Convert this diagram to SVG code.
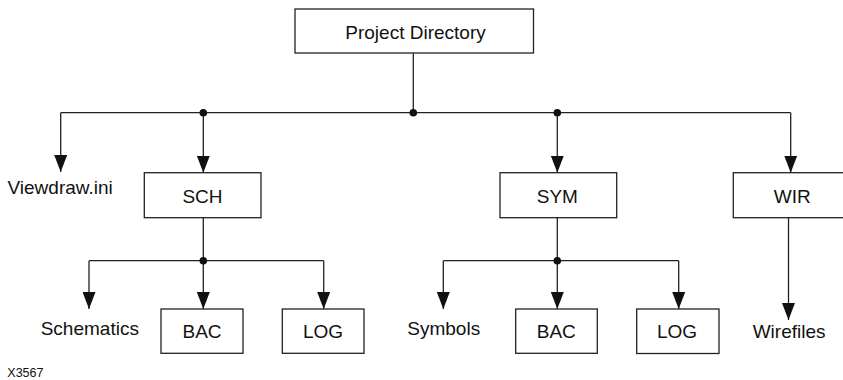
<svg xmlns="http://www.w3.org/2000/svg" width="843" height="380" viewBox="0 0 843 380">
<style>
.box{fill:#fff;stroke:#222;stroke-width:1.3}
.ln{fill:none;stroke:#222;stroke-width:1.3}
.arr{marker-end:url(#ah)}
text{font-family:"Liberation Sans",Arial,sans-serif;font-size:19px;fill:#111}
.c{text-anchor:middle}
.dot{fill:#111}
</style>
<defs>
<marker id="ah" viewBox="0 0 17 13" refX="17" refY="6.5" markerWidth="17" markerHeight="13" markerUnits="userSpaceOnUse" orient="auto">
<path d="M0,0 L17,6.5 L0,13 z" fill="#111"/>
</marker>
</defs>
<rect width="843" height="380" fill="#fff"/>
<g id="connectors">
<line class="ln" x1="413.3" y1="53" x2="413.3" y2="112.7"/>
<line class="ln" x1="60.7" y1="112.7" x2="790.7" y2="112.7"/>
<line class="ln arr" x1="60.7" y1="112.7" x2="60.7" y2="172"/>
<line class="ln arr" x1="203.3" y1="112.7" x2="203.3" y2="172.7"/>
<line class="ln arr" x1="557.3" y1="112.7" x2="557.3" y2="172.7"/>
<line class="ln arr" x1="790.7" y1="112.7" x2="790.7" y2="172.7"/>
<circle class="dot" cx="203.3" cy="112.7" r="3.8"/>
<circle class="dot" cx="413.3" cy="112.7" r="3.8"/>
<circle class="dot" cx="557.3" cy="112.7" r="3.8"/>
<line class="ln" x1="203.3" y1="217.7" x2="203.3" y2="260.7"/>
<line class="ln" x1="89" y1="260.7" x2="323.7" y2="260.7"/>
<line class="ln arr" x1="89" y1="260.7" x2="89" y2="309"/>
<line class="ln arr" x1="203.3" y1="260.7" x2="203.3" y2="309"/>
<line class="ln arr" x1="323.7" y1="260.7" x2="323.7" y2="309"/>
<circle class="dot" cx="203.3" cy="260.7" r="3.8"/>
<line class="ln" x1="557.3" y1="217.7" x2="557.3" y2="260.7"/>
<line class="ln" x1="443.3" y1="260.7" x2="678.7" y2="260.7"/>
<line class="ln arr" x1="443.3" y1="260.7" x2="443.3" y2="309"/>
<line class="ln arr" x1="557.3" y1="260.7" x2="557.3" y2="309"/>
<line class="ln arr" x1="678.7" y1="260.7" x2="678.7" y2="309"/>
<circle class="dot" cx="557.3" cy="260.7" r="3.8"/>
<line class="ln arr" x1="788.5" y1="217.7" x2="788.5" y2="320"/>
</g>
<g id="project">
<rect class="box" x="295" y="9" width="238.5" height="44"/>
<text class="c" x="415.5" y="38.5">Project Directory</text>
</g>
<g id="viewdraw"><text x="7.5" y="194">Viewdraw.ini</text></g>
<g id="sch">
<rect class="box" x="144.3" y="172.7" width="116.7" height="45"/>
<text class="c" x="202.5" y="202.5">SCH</text>
</g>
<g id="sym">
<rect class="box" x="500" y="172.7" width="116.7" height="45"/>
<text class="c" x="557.3" y="202.5">SYM</text>
</g>
<g id="wir">
<rect class="box" x="733.3" y="172.7" width="116.7" height="45"/>
<text class="c" x="792.2" y="202.5">WIR</text>
</g>
<g id="schematics"><text x="40.7" y="335">Schematics</text></g>
<g id="sch-bac">
<rect class="box" x="161" y="309" width="82" height="44.3"/>
<text class="c" x="202" y="338.3">BAC</text>
</g>
<g id="sch-log">
<rect class="box" x="282.3" y="309" width="81.7" height="44.3"/>
<text class="c" x="323" y="338.3">LOG</text>
</g>
<g id="symbols"><text x="407.3" y="335">Symbols</text></g>
<g id="sym-bac">
<rect class="box" x="515.7" y="309" width="81.6" height="44.3"/>
<text class="c" x="556.3" y="338.3">BAC</text>
</g>
<g id="sym-log">
<rect class="box" x="636.7" y="309" width="82.3" height="44.5"/>
<text class="c" x="677" y="338.3">LOG</text>
</g>
<g id="wirefiles"><text x="752.7" y="338.3">Wirefiles</text></g>
<text x="7.3" y="377" style="font-size:12.5px">X3567</text>
</svg>
